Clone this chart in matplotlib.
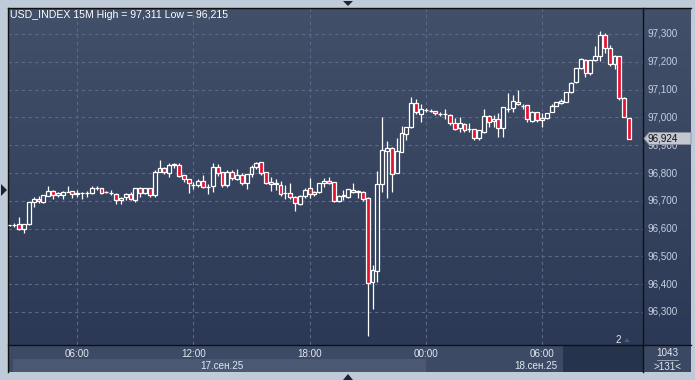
import matplotlib
matplotlib.use("Agg")
import matplotlib.pyplot as plt
import numpy as np
from matplotlib.colors import LinearSegmentedColormap
from matplotlib.patches import Rectangle, Polygon

# 15M candles, USD_INDEX, 17-18 Sep 2025
opens = [96.612, 96.613, 96.617, 96.597, 96.615, 96.696, 96.705, 96.696, 96.719, 96.735,
         96.721, 96.720, 96.732, 96.735, 96.726, 96.727, 96.727, 96.727, 96.747, 96.745,
         96.732, 96.729, 96.723, 96.703, 96.713, 96.725, 96.703, 96.745, 96.727, 96.745,
         96.720, 96.805, 96.817, 96.799, 96.830, 96.829, 96.792, 96.777, 96.757, 96.758,
         96.770, 96.749, 96.755, 96.823, 96.803, 96.756, 96.805, 96.777, 96.793, 96.763,
         96.795, 96.821, 96.839, 96.803, 96.767, 96.760, 96.757, 96.727, 96.729, 96.713,
         96.687, 96.717, 96.745, 96.723, 96.731, 96.763, 96.770, 96.767, 96.699, 96.719,
         96.715, 96.739, 96.733, 96.733, 96.709, 96.407, 96.449, 96.759, 96.880, 96.889,
         96.801, 96.877, 96.939, 96.967, 97.053, 97.014, 97.027, 97.024, 97.024, 97.012,
         97.011, 97.009, 96.979, 96.961, 96.976, 96.957, 96.957, 96.925, 96.949, 97.005,
         96.986, 96.993, 96.961, 97.030, 97.033, 97.054, 97.042, 97.045, 96.987, 97.018,
         96.990, 96.997, 97.021, 97.042, 97.052, 97.057, 97.090, 97.126, 97.177, 97.207,
         97.161, 97.207, 97.221, 97.296, 97.251, 97.191, 97.221, 97.069, 96.997]
highs = [96.614, 96.621, 96.641, 96.617, 96.696, 96.713, 96.717, 96.721, 96.753, 96.738,
         96.731, 96.735, 96.753, 96.736, 96.739, 96.733, 96.734, 96.753, 96.753, 96.747,
         96.736, 96.739, 96.727, 96.715, 96.727, 96.733, 96.745, 96.751, 96.747, 96.745,
         96.811, 96.847, 96.823, 96.835, 96.835, 96.835, 96.792, 96.777, 96.767, 96.777,
         96.793, 96.759, 96.835, 96.831, 96.803, 96.811, 96.811, 96.813, 96.799, 96.795,
         96.829, 96.840, 96.841, 96.805, 96.787, 96.777, 96.773, 96.757, 96.765, 96.717,
         96.720, 96.745, 96.783, 96.735, 96.765, 96.781, 96.787, 96.767, 96.721, 96.739,
         96.741, 96.765, 96.739, 96.735, 96.712, 96.469, 96.808, 97.003, 96.915, 96.895,
         96.925, 96.969, 96.967, 97.072, 97.065, 97.048, 97.034, 97.030, 97.024, 97.020,
         97.029, 97.011, 96.997, 97.003, 96.981, 96.979, 96.957, 96.955, 97.029, 97.009,
         97.009, 97.015, 97.036, 97.087, 97.081, 97.099, 97.047, 97.045, 97.023, 97.018,
         97.015, 97.017, 97.047, 97.054, 97.066, 97.092, 97.129, 97.179, 97.212, 97.209,
         97.207, 97.258, 97.311, 97.302, 97.261, 97.224, 97.221, 97.075, 96.999]
lows = [96.610, 96.605, 96.595, 96.583, 96.613, 96.679, 96.691, 96.693, 96.719, 96.705,
        96.715, 96.705, 96.731, 96.709, 96.713, 96.705, 96.715, 96.725, 96.739, 96.725,
        96.728, 96.720, 96.687, 96.687, 96.703, 96.703, 96.697, 96.713, 96.725, 96.713,
        96.715, 96.803, 96.795, 96.785, 96.817, 96.787, 96.769, 96.727, 96.741, 96.751,
        96.747, 96.723, 96.733, 96.789, 96.751, 96.751, 96.775, 96.775, 96.757, 96.741,
        96.787, 96.815, 96.793, 96.759, 96.737, 96.739, 96.717, 96.705, 96.705, 96.665,
        96.685, 96.709, 96.711, 96.719, 96.727, 96.751, 96.761, 96.695, 96.695, 96.703,
        96.711, 96.727, 96.709, 96.699, 96.215, 96.311, 96.409, 96.733, 96.711, 96.733,
        96.800, 96.876, 96.919, 96.963, 97.011, 96.985, 97.019, 97.018, 97.010, 97.006,
        96.993, 96.973, 96.955, 96.949, 96.949, 96.949, 96.919, 96.919, 96.943, 96.967,
        96.967, 96.931, 96.928, 97.021, 97.021, 97.045, 97.032, 96.985, 96.985, 96.985,
        96.967, 96.993, 97.018, 97.040, 97.049, 97.054, 97.086, 97.123, 97.173, 97.147,
        97.152, 97.203, 97.203, 97.230, 97.186, 97.173, 97.063, 97.000, 96.922]
closes = [96.613, 96.613, 96.597, 96.617, 96.696, 96.705, 96.698, 96.721, 96.735, 96.720,
          96.729, 96.733, 96.732, 96.725, 96.726, 96.727, 96.727, 96.745, 96.747, 96.727,
          96.732, 96.729, 96.702, 96.709, 96.725, 96.705, 96.745, 96.727, 96.745, 96.721,
          96.803, 96.817, 96.803, 96.829, 96.831, 96.789, 96.777, 96.763, 96.757, 96.770,
          96.751, 96.749, 96.823, 96.799, 96.756, 96.803, 96.781, 96.793, 96.763, 96.795,
          96.821, 96.837, 96.799, 96.765, 96.759, 96.763, 96.723, 96.727, 96.715, 96.691,
          96.717, 96.739, 96.725, 96.733, 96.763, 96.773, 96.763, 96.699, 96.719, 96.719,
          96.741, 96.731, 96.733, 96.707, 96.403, 96.451, 96.760, 96.883, 96.889, 96.795,
          96.879, 96.943, 96.964, 97.051, 97.018, 97.029, 97.027, 97.024, 97.015, 97.012,
          97.011, 96.979, 96.957, 96.979, 96.955, 96.957, 96.925, 96.955, 97.005, 96.985,
          96.993, 96.961, 97.036, 97.030, 97.060, 97.047, 97.042, 96.994, 97.021, 96.990,
          96.997, 97.017, 97.042, 97.054, 97.058, 97.090, 97.123, 97.179, 97.210, 97.161,
          97.207, 97.221, 97.296, 97.251, 97.191, 97.221, 97.069, 97.000, 96.924]

price_ticks = [96.3, 96.4, 96.5, 96.6, 96.7, 96.8, 96.9, 97.0, 97.1, 97.2, 97.3]
time_ticks = [14, 38, 62, 86, 110]
time_labels = ["06:00", "12:00", "18:00", "00:00", "06:00"]
date_labels = ["17.сен.25", "18.сен.25"]
title = "USD_INDEX 15M High = 97,311 Low = 96,215"
last_price = 96.924
bars_shown = "1043"
bars_visible = ">131<"

W, H = 695, 380
# pixel frame of the chart pieces
L, R, T, B = 8, 643, 8, 345
AX_R = 691
BOT = 372
BAR_STEP = 4.84
X0 = 9.5
Y_TOP_P, Y_TOP_PX, PX_PER = 97.3, 34.0, 278.0


def py(p):
    return Y_TOP_PX + (Y_TOP_P - p) * PX_PER


def fmt(p):
    return ("%.3f" % p).replace(".", ",")


plt.rcParams["font.family"] = ["Liberation Sans", "DejaVu Sans"]

fig = plt.figure(figsize=(W / 100, H / 100), dpi=100)
fig.patch.set_facecolor("#c0cbd9")

bg = fig.add_axes([0, 0, 1, 1])
bg.set_xlim(0, W)
bg.set_ylim(H, 0)
bg.axis("off")

grad = LinearSegmentedColormap.from_list("bg", ["#425069", "#2c3956"])
g = np.linspace(0, 1, 256).reshape(-1, 1)
bg.imshow(g, cmap=grad, extent=[L, R, B, T], aspect="auto", zorder=0)
bg.imshow(g, cmap=grad, extent=[R, AX_R, B, T], aspect="auto", zorder=0)

# time axis panel
bg.add_patch(Rectangle((L, B), R - L, BOT - B, facecolor="#3c4a65", edgecolor="none", zorder=1))
bg.add_patch(Rectangle((13, 359), 426 - 13, 13, facecolor="#4a5874", edgecolor="none", zorder=1))
bg.add_patch(Rectangle((563, B), R - 563, BOT - B, facecolor="#26334d", edgecolor="none", zorder=1))
bg.add_patch(Rectangle((R, B), AX_R - R, BOT - B, facecolor="#3a4863", edgecolor="none", zorder=1))

# frame lines
bg.plot([L, AX_R], [T, T], color="#111111", lw=1, zorder=3)
bg.plot([L, L], [T, BOT], color="#111111", lw=1, zorder=3)
bg.plot([R, R], [T, BOT], color="#111111", lw=1, zorder=3)
bg.plot([L, AX_R], [B, B], color="#111111", lw=1, zorder=3)

# grid
for p in price_ticks:
    bg.plot([L, R], [py(p), py(p)], color="#5b6a86", lw=0.8, ls=(0, (3, 3)), zorder=2)
    bg.text(R + 5, py(p), fmt(p), color="#c5d0e2", fontsize=7.1, va="center", ha="left", zorder=4)
for t, lab in zip(time_ticks, time_labels):
    x = X0 + t * BAR_STEP
    bg.plot([x, x], [T, B], color="#5b6a86", lw=0.8, ls=(0, (3, 3)), zorder=2)
    bg.text(x, 354, lab, color="#e3e8f0", fontsize=7.1, ha="center", va="center", zorder=4)

bg.text(222, 366, date_labels[0], color="#e3e8f0", fontsize=7.1, ha="center", va="center", zorder=4)
bg.text(557, 366, date_labels[1], color="#e3e8f0", fontsize=7.1, ha="right", va="center", zorder=4)

bg.text(667, 353, bars_shown, color="#e3e8f0", fontsize=7.1, ha="center", va="center", zorder=4)
bg.plot([657, 678], [359.5, 359.5], color="#9aa6b8", lw=0.7, zorder=4)
bg.text(667, 367, bars_visible, color="#e3e8f0", fontsize=7.1, ha="center", va="center", zorder=4)

bg.text(10, 15, title, color="white", fontsize=7.6, ha="left", va="center", zorder=4)
bg.text(618, 340, "2", color="#e3e8f0", fontsize=7.1, ha="center", va="center", zorder=4)
bg.add_patch(Polygon([[624, 342], [630, 342], [627, 338]], closed=True, facecolor="#4a5874", zorder=4))

# last price marker (drawn over the 96,900 label, as in the terminal)
yl = py(last_price)
bg.add_patch(Polygon([[R + 1, yl], [R + 6, yl - 6], [AX_R, yl - 6], [AX_R, yl + 6], [R + 6, yl + 6]],
                     closed=True, facecolor="#c3c7cf", edgecolor="#8a909c", lw=0.6, zorder=5))
bg.text(R + 5, yl, fmt(last_price), color="#111111", fontsize=7.1, ha="left", va="center", zorder=6)

# little scroll arrows outside the chart
bg.add_patch(Polygon([[343, 1], [353, 1], [348, 6]], closed=True, facecolor="#1b2436", zorder=4))
bg.add_patch(Polygon([[343, 380], [353, 380], [348, 374]], closed=True, facecolor="#1b2436", zorder=4))
bg.add_patch(Polygon([[1, 184], [1, 196], [7, 190]], closed=True, facecolor="#1b2436", zorder=4))

# candles
ax = fig.add_axes([L / W, (H - B) / H, (R - L) / W, (B - T) / H])
ax.patch.set_alpha(0)
ax.axis("off")
ax.set_xlim((L - X0) / BAR_STEP, (R - X0) / BAR_STEP)
ax.set_ylim(Y_TOP_P - (B - Y_TOP_PX) / PX_PER, Y_TOP_P + (Y_TOP_PX - T) / PX_PER)

o = np.array(opens)
h = np.array(highs)
lo = np.array(lows)
c = np.array(closes)
idx = np.arange(len(o))
top = np.maximum(o, c)
bot = np.minimum(o, c)
up = c >= o

ax.vlines(idx, top, h, color="white", lw=0.9)
ax.vlines(idx, lo, bot, color="white", lw=0.9)
body = np.maximum(top - bot, 0.0005)
ax.bar(idx[up], body[up], bottom=bot[up], width=0.8, color="#33405c", edgecolor="white", linewidth=0.9)
ax.bar(idx[~up], body[~up], bottom=bot[~up], width=0.8, color="#e5112f", edgecolor="white", linewidth=0.9)

fig.savefig("out.png", dpi=100)
